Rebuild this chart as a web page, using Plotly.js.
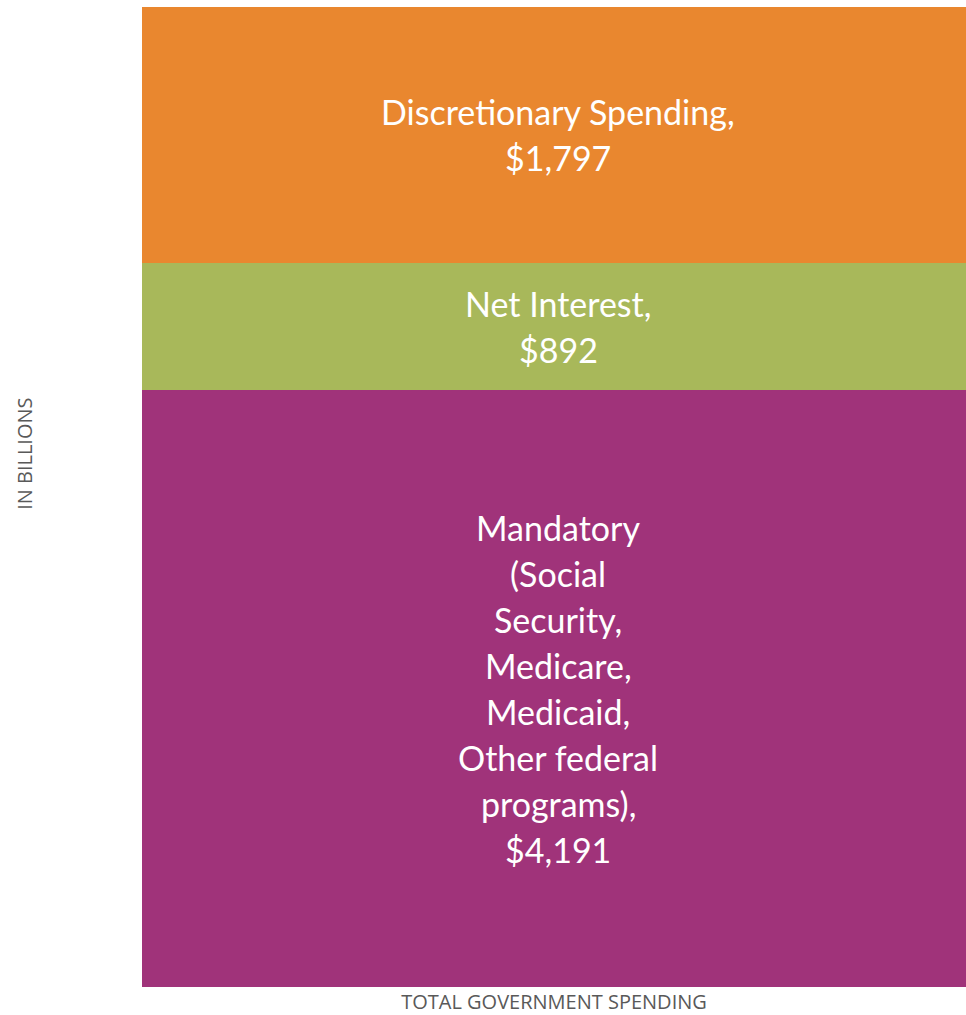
<!DOCTYPE html>
<html>
<head>
<meta charset="utf-8">
<script src="https://cdn.plot.ly/plotly-3.0.1.min.js"></script>
<style>html,body{margin:0;padding:0;background:#fff;}#chart{width:966px;height:1015px;}</style>
</head>
<body>
<div id="chart"></div>
<script>
// Data
var category = "Total Government Spending";
var segmentNames = ["Mandatory", "Net Interest", "Discretionary Spending"];
var segmentValues = [4191, 892, 1797];
var segmentLabelLines = [
  ["Mandatory", "(Social", "Security,", "Medicare,", "Medicaid,", "Other federal", "programs),", "$4,191"],
  ["Net Interest,", "$892"],
  ["Discretionary Spending,", "$1,797"]
];
var segmentColors = ["#A0337A", "#A8B85A", "#E9872F"];
var xAxisTitle = "TOTAL GOVERNMENT SPENDING";
var yAxisTitle = "IN BILLIONS";

var traces = [];
var annotations = [];
var cum = 0;
var LINE = 46;
for (var i = 0; i < segmentValues.length; i++) {
  traces.push({
    type: "bar",
    name: segmentNames[i],
    x: [category],
    y: [segmentValues[i]],
    width: [1],
    marker: {color: segmentColors[i], line: {width: 0}},
    hoverinfo: "name+y"
  });
  var mid = cum + segmentValues[i] / 2;
  var lines = segmentLabelLines[i];
  for (var j = 0; j < lines.length; j++) {
    annotations.push({
      x: category, y: mid, xref: "x", yref: "y",
      text: lines[j], showarrow: false, xshift: 4,
      yshift: ((lines.length - 1) / 2 - j) * LINE,
      font: {family: "Lato, 'Open Sans', sans-serif", size: 34, color: "#ffffff"}
    });
  }
  cum += segmentValues[i];
}

// y-axis title (placed as in the reference, slightly above the axis middle)
annotations.push({
  xref: "paper", yref: "paper", x: -0.142, y: 0.544,
  xanchor: "center", yanchor: "middle", textangle: -90,
  text: yAxisTitle, showarrow: false,
  font: {family: "'Open Sans', Lato, sans-serif", size: 20, color: "#595959"}
});

var layout = {
  width: 966, height: 1015,
  margin: {l: 142, r: 0, t: 7, b: 28, pad: 0},
  paper_bgcolor: "#ffffff", plot_bgcolor: "#ffffff",
  barmode: "stack", bargap: 0, showlegend: false,
  xaxis: {
    range: [-0.5, 0.5], showticklabels: false, showgrid: false, zeroline: false, showline: false, ticks: "",
    title: {text: xAxisTitle, standoff: 10, font: {family: "'Open Sans', Lato, sans-serif", size: 20, color: "#595959"}}
  },
  yaxis: {
    range: [0, cum], showticklabels: false, showgrid: false, zeroline: false, showline: false, ticks: ""
  },
  annotations: annotations
};
Plotly.newPlot("chart", traces, layout, {displayModeBar: false, staticPlot: true});
</script>
</body>
</html>
